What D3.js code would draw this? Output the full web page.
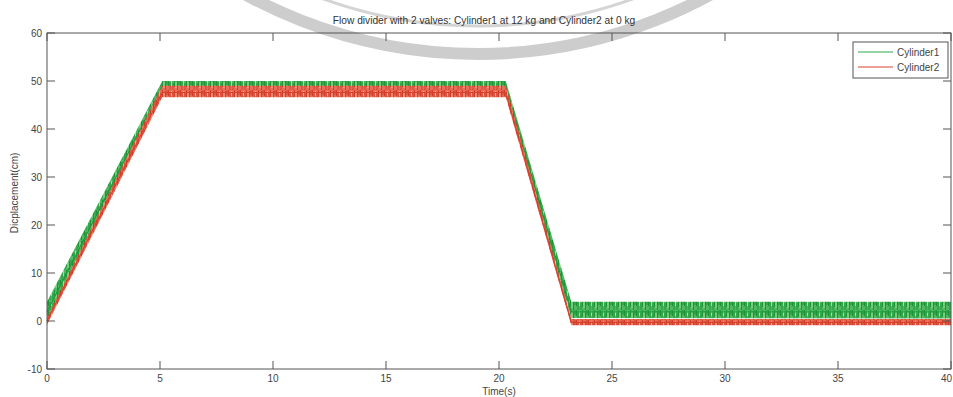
<!DOCTYPE html>
<html>
<head>
<meta charset="utf-8">
<script src="https://cdn.jsdelivr.net/npm/d3@7"></script>
<style>
  html, body { margin: 0; padding: 0; background: #fff; }
  svg { display: block; font-family: "Liberation Sans", Arial, sans-serif; }
</style>
</head>
<body>
<svg id="chart" width="953" height="397"></svg>
<script>
// ---- data ----
const titleText = "Flow divider with 2 valves: Cylinder1 at 12 kg and Cylinder2 at 0 kg";
const seriesNames = ["Cylinder1", "Cylinder2"];
const timeKnots = [0, 5.1, 20.3, 23.2, 40];          // s
const cyl1Mid = [2.0, 48.8, 48.8, 1.9, 1.9];         // cm
const cyl1Lo  = [0.3, 47.5, 47.5, 0.6, 0.5];
const cyl1Hi  = [4.0, 50.0, 50.0, 4.0, 4.0];
const cyl2Mid = [0.0, 47.6, 47.6, -0.3, -0.3];
const cyl2Lo  = [-0.8, 46.6, 46.6, -0.9, -0.9];
const cyl2Hi  = [0.6, 49.0, 49.0, 0.4, 0.4];
const xTicks = [0, 5, 10, 15, 20, 25, 30, 35, 40];
const yTicks = [-10, 0, 10, 20, 30, 40, 50, 60];

const svg = d3.select("#chart");
const L = 47, R = 951, T = 33, B = 369;
const x = d3.scaleLinear().domain([0, 40]).range([L, R]);
const y = d3.scaleLinear().domain([-10, 60]).range([B, T]);

// watermark ring (background decoration)
const wm = svg.append("g");
wm.append("circle").attr("cx", 478).attr("cy", -430).attr("r", 484)
  .attr("fill", "none").attr("stroke", "#cdcdcd").attr("stroke-width", 12);
wm.append("circle").attr("cx", 478).attr("cy", -430).attr("r", 456)
  .attr("fill", "none").attr("stroke", "#d4d4d4").attr("stroke-width", 3);

// noise-like stripe patterns (purely stylistic texture)
const defs = svg.append("defs");
const barSpec = [[0, 0, 6], [1.5, 2, 9], [3, 1, 5], [4.5, 3, 8], [6, 0, 7], [7.5, 2, 6], [9, 1, 9], [10.5, 0, 5]];
function stripes(id, bg, dark, light) {
  const p = defs.append("pattern").attr("id", id).attr("patternUnits", "userSpaceOnUse")
    .attr("width", 12).attr("height", 10);
  p.append("rect").attr("width", 12).attr("height", 10).attr("fill", bg);
  barSpec.forEach((b, i) => {
    p.append("rect").attr("x", b[0]).attr("y", b[1]).attr("width", 1).attr("height", b[2])
      .attr("fill", i % 3 === 2 ? light : dark);
  });
}
stripes("g1", "#4fb860", "#1c9538", "#a6dc9c");
stripes("r1", "#e66e58", "#d23c2a", "#f2a88e");

const rows1 = timeKnots.map((t, i) => ({t, lo: cyl1Lo[i], hi: cyl1Hi[i], m: cyl1Mid[i]}));
const rows2 = timeKnots.map((t, i) => ({t, lo: cyl2Lo[i], hi: cyl2Hi[i], m: cyl2Mid[i]}));
const area = d3.area().x(d => x(d.t)).y0(d => y(d.lo)).y1(d => y(d.hi));
const line = d3.line().x(d => x(d.t)).y(d => y(d.m));

const plot = svg.append("g");
plot.append("path").datum(rows1).attr("d", area).attr("fill", "url(#g1)");
plot.append("path").datum(rows1).attr("d", line).attr("fill", "none").attr("stroke", "#1e9a3c").attr("stroke-width", 1.2);
plot.append("path").datum(rows2).attr("d", area).attr("fill", "url(#r1)");
plot.append("path").datum(rows2).attr("d", line).attr("fill", "none").attr("stroke", "#d8412c").attr("stroke-width", 1.2);

// axes box
const axCol = "#555";
svg.append("rect").attr("x", L).attr("y", T).attr("width", R - L).attr("height", B - T)
  .attr("fill", "none").attr("stroke", axCol).attr("stroke-width", 1);

const ax = svg.append("g").attr("stroke", axCol).attr("stroke-width", 1);
xTicks.forEach(v => {
  ax.append("line").attr("x1", x(v)).attr("x2", x(v)).attr("y1", B).attr("y2", B - 8);
  ax.append("line").attr("x1", x(v)).attr("x2", x(v)).attr("y1", T).attr("y2", T + 8);
});
yTicks.forEach(v => {
  ax.append("line").attr("x1", L).attr("x2", L + 8).attr("y1", y(v)).attr("y2", y(v));
  ax.append("line").attr("x1", R).attr("x2", R - 8).attr("y1", y(v)).attr("y2", y(v));
});

const txtCol = "#444";
svg.append("g").selectAll("text").data(xTicks).join("text")
  .attr("x", d => d === 40 ? 952 : x(d)).attr("y", 382)
  .attr("text-anchor", d => d === 40 ? "end" : "middle")
  .attr("font-size", 10).attr("fill", txtCol).text(d => d);
svg.append("g").selectAll("text").data(yTicks).join("text")
  .attr("x", 42).attr("y", d => y(d) + 3.5).attr("text-anchor", "end")
  .attr("font-size", 10).attr("fill", txtCol).text(d => d);

svg.append("text").attr("x", 484).attr("y", 24).attr("text-anchor", "middle")
  .attr("font-size", 10.2).attr("fill", "#333").text(titleText);
svg.append("text").attr("x", (L + R) / 2).attr("y", 395).attr("text-anchor", "middle")
  .attr("font-size", 10).attr("fill", txtCol).text("Time(s)");
svg.append("text").attr("transform", "translate(18,193) rotate(-90)").attr("text-anchor", "middle")
  .attr("font-size", 10).attr("fill", txtCol).text("Dicplacement(cm)");

// legend
const lg = svg.append("g");
lg.append("rect").attr("x", 853).attr("y", 42).attr("width", 95).attr("height", 36)
  .attr("fill", "#fff").attr("stroke", axCol).attr("stroke-width", 1);
const lgCols = ["#2fa84a", "#d8412c"];
seriesNames.forEach((n, i) => {
  const yy = 52 + i * 15;
  lg.append("line").attr("x1", 858).attr("x2", 893).attr("y1", yy).attr("y2", yy)
    .attr("stroke", lgCols[i]).attr("stroke-width", 1);
  lg.append("text").attr("x", 897).attr("y", yy + 3.5).attr("font-size", 10)
    .attr("fill", txtCol).text(n);
});
</script>
</body>
</html>
